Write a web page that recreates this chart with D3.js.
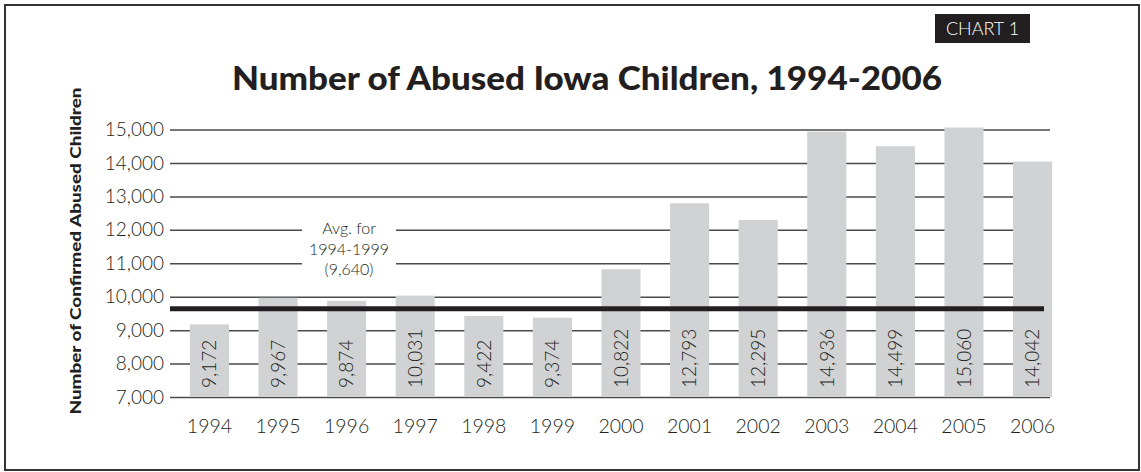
<!DOCTYPE html>
<html>
<head>
<meta charset="utf-8">
<script src="https://cdn.jsdelivr.net/npm/d3@7"></script>
<style>
  body { margin: 0; background: #fff; }
  svg { display: block; }
  .tick text { font-family: Lato, "Open Sans", sans-serif; font-weight: 300; fill: #231f20; }
</style>
</head>
<body>
<div id="visualization"></div>
<script>
var years = ["1994", "1995", "1996", "1997", "1998", "1999", "2000",
             "2001", "2002", "2003", "2004", "2005", "2006"];
var abused = [9172, 9967, 9874, 10031, 9422, 9374, 10822,
              12793, 12295, 14936, 14499, 15060, 14042];
var yTicks = [7000, 8000, 9000, 10000, 11000, 12000, 13000, 14000, 15000];
var average = 9640;
var avgLabel = ["Avg. for", "1994-1999", "(9,640)"];
var title = "Number of Abused Iowa Children, 1994-2006";
var yTitle = "Number of Confirmed Abused Children";

function draw_chart() {
  var width = 1141,
      height = 472,
      left = 170,
      right = 1050,
      top = 129.5,
      bottom = 397;

  var svg = d3.select("#visualization")
              .append("svg")
              .attr("width", width)
              .attr("height", height);

  // frame
  svg.append("rect")
     .attr("x", 5).attr("y", 5)
     .attr("width", 1134).attr("height", 465)
     .attr("fill", "#fff")
     .attr("stroke", "#333")
     .attr("stroke-width", 2);

  var x = d3.scaleBand()
            .domain(years)
            .range([left, 1072])
            .paddingInner(0.43)
            .paddingOuter(0.29);

  var y = d3.scaleLinear()
            .domain([7000, 15000])
            .range([bottom, top]);

  // grid + y labels
  var yAxis = svg.append("g")
     .attr("transform", "translate(" + left + ",0)")
     .call(d3.axisLeft(y).tickValues(yTicks).tickFormat(d3.format(","))
             .tickSize(-(right - left)).tickPadding(6));
  yAxis.select(".domain").remove();
  yAxis.selectAll("line").attr("stroke", "#4a4a4a").attr("stroke-width", 1.5);
  yAxis.selectAll("text").attr("font-size", 19).attr("x", -6);

  // gap in the grid for the average note
  svg.append("rect")
     .attr("x", 302).attr("y", 215)
     .attr("width", 94).attr("height", 62)
     .attr("fill", "#fff");

  svg.append("text")
     .attr("x", 349)
     .attr("y", 234)
     .attr("text-anchor", "middle")
     .attr("font-family", "Lato, 'Open Sans', sans-serif")
     .attr("font-weight", 300)
     .attr("font-size", 16)
     .attr("fill", "#231f20")
     .selectAll("tspan")
     .data(avgLabel)
     .enter()
     .append("tspan")
     .attr("x", 349)
     .attr("dy", function(d, i) { return i == 0 ? 0 : 20.5; })
     .text(function(d) { return d; });

  // bars
  svg.append("g")
     .selectAll("rect")
     .data(abused)
     .enter()
     .append("rect")
     .attr("x", function(d, i) { return x(years[i]); })
     .attr("y", function(d) { return y(d); })
     .attr("width", x.bandwidth())
     .attr("height", function(d) { return y(7000) - y(d); })
     .attr("fill", "#d1d2d4");

  // values inside bars
  svg.append("g")
     .selectAll("text")
     .data(abused)
     .enter()
     .append("text")
     .attr("transform", function(d, i) {
       return "translate(" + (x(years[i]) + x.bandwidth() / 2) + ",388) rotate(-90)";
     })
     .attr("dy", "0.36em")
     .attr("font-family", "Lato, 'Open Sans', sans-serif")
     .attr("font-weight", 300)
     .attr("font-size", 19)
     .attr("fill", "#231f20")
     .text(function(d) { return d3.format(",")(d); });

  // average line
  svg.append("line")
     .attr("x1", left).attr("x2", 1044)
     .attr("y1", y(average)).attr("y2", y(average))
     .attr("stroke", "#231f20")
     .attr("stroke-width", 5);

  // x labels
  var xAxis = svg.append("g")
     .attr("transform", "translate(0," + bottom + ")")
     .call(d3.axisBottom(x).tickSize(0).tickPadding(22));
  xAxis.select(".domain").remove();
  xAxis.selectAll("text").attr("font-size", 19.5);

  // titles
  svg.append("text")
     .attr("x", 232)
     .attr("y", 90)
     .attr("textLength", 710)
     .attr("lengthAdjust", "spacingAndGlyphs")
     .attr("font-family", "Lato, 'DejaVu Sans', sans-serif")
     .attr("font-weight", 900)
     .attr("font-size", 32)
     .attr("fill", "#231f20")
     .text(title);

  svg.append("text")
     .attr("transform", "translate(81,251) rotate(-90)")
     .attr("text-anchor", "middle")
     .attr("textLength", 327)
     .attr("lengthAdjust", "spacingAndGlyphs")
     .attr("font-family", "Lato, 'DejaVu Sans', sans-serif")
     .attr("font-weight", 900)
     .attr("font-size", 15)
     .attr("fill", "#231f20")
     .text(yTitle);

  // badge
  svg.append("rect")
     .attr("x", 935).attr("y", 14)
     .attr("width", 95).attr("height", 29)
     .attr("fill", "#231f20");
  svg.append("text")
     .attr("x", 982.5)
     .attr("y", 35)
     .attr("text-anchor", "middle")
     .attr("font-family", "Lato, 'Open Sans', sans-serif")
     .attr("font-weight", 300)
     .attr("font-size", 18)
     .attr("fill", "#fff")
     .text("CHART 1");
}

draw_chart();
</script>
</body>
</html>
